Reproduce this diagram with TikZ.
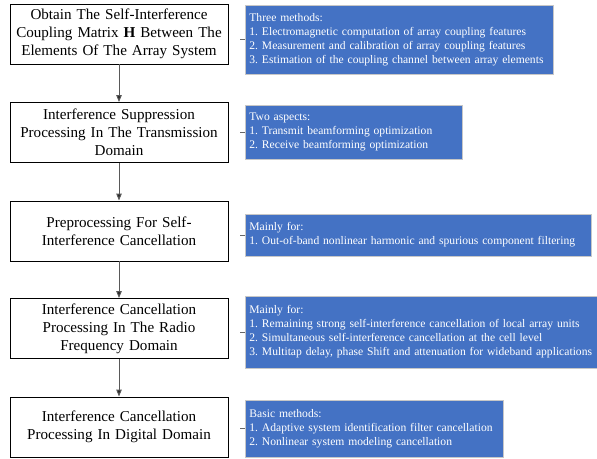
\documentclass[tikz,border=0pt]{standalone}
\usepackage{fontspec}
\setmainfont{Liberation Serif}
\usetikzlibrary{arrows.meta}
\frenchspacing

\begin{document}
\begin{tikzpicture}[x=1pt,y=1pt,
        stage/.style={draw=black, line width=0.9pt, minimum width=218pt, minimum height=60pt,
            text width=214pt, align=center, inner sep=2pt,
            font=\fontsize{15.1}{18}\selectfont},
        note/.style={draw=black!22, line width=0.8pt, fill=noteblue, text=white, anchor=west,
            align=left, inner xsep=4pt, inner ysep=2pt,
            font=\fontsize{11.6}{14}\selectfont},
        flow/.style={draw=black!65, line width=1pt, -{Triangle[length=7pt,width=5.5pt,fill=black!85]}},
        tick/.style={draw=black!60, line width=0.6pt}]
        \definecolor{noteblue}{HTML}{4472C4}
        \useasboundingbox (0,0) rectangle (597,-458);
        % stages of the cancellation chain
        \node[stage] (s1) at (119,-34)    {Obtain The Self-Interference\\Coupling Matrix \textbf{H} Between The\\Elements Of The Array System};
        \node[stage] (s2) at (119,-132.5) {Interference Suppression\\Processing In The Transmission\\Domain};
        \node[stage] (s3) at (119,-231)   {Preprocessing For Self-\\Interference Cancellation};
        \node[stage] (s4) at (119,-328.5) {Interference Cancellation\\Processing In The Radio\\Frequency Domain};
        \node[stage] (s5) at (119,-427)   {Interference Cancellation\\Processing In Digital Domain};
        % notes on the right
        \node[note, text width=300pt, minimum height=69pt] (n1) at (245,-39.5)
            {Three methods:\\1. Electromagnetic computation of array coupling features\\2. Measurement and calibration of array coupling features\\3. Estimation of the coupling channel between array elements};
        \node[note, text width=209pt, minimum height=54pt] (n2) at (245,-132)
            {Two aspects:\\1. Transmit beamforming optimization\\2. Receive beamforming optimization};
        \node[note, text width=338pt, minimum height=42pt] (n3) at (245,-235)
            {Mainly for:\\1. Out-of-band nonlinear harmonic and spurious component filtering};
        \node[note, text width=344pt, minimum height=72pt] (n4) at (245,-332)
            {Mainly for:\\1. Remaining strong self-interference cancellation of local array units\\2. Simultaneous self-interference cancellation at the cell level\\3. Multitap delay, phase Shift and attenuation for wideband applications};
        \node[note, text width=250pt, minimum height=57pt] (n5) at (245,-428.5)
            {Basic methods:\\1. Adaptive system identification filter cancellation\\2. Nonlinear system modeling cancellation};
        \foreach \i/\j in {1/2,2/3,3/4,4/5} {
            \draw[flow] (s\i) -- (s\j);
        }
        \foreach \i in {1,...,5} {
            \coordinate (t\i) at ([xshift=-5pt]n\i.west);
            \draw[tick] (t\i) -- (n\i.west);
        }
\end{tikzpicture}
\end{document}
